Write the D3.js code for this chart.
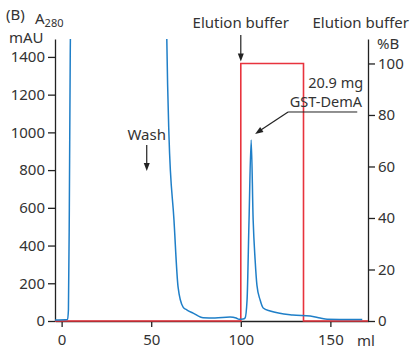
<!DOCTYPE html>
<html>
<head>
<meta charset="utf-8">
<script src="https://cdn.jsdelivr.net/npm/d3@7"></script>
<style>
  body { margin: 0; background: #fff; }
  text { font-family: "Noto Sans", sans-serif; fill: #333; }
</style>
</head>
<body>
<div id="chart"></div>
<script>
/* Daten: Chromatogramm (A280 in mAU gegen Volumen in ml) */
var volume = [-3.7, 3.3, 3.8, 4.3, 4.8, 5.3, 58.3, 58.7, 59.9, 62.7, 65, 67.8, 70, 73.4, 79, 85.6, 94, 97.4, 99, 101.3, 102.4, 103.5, 104.6, 105.8, 106.9, 108, 109, 110.8, 112.5, 116.4, 129, 138.7, 144.3, 148.2, 167.8];
var absorbance = [5, 8, 60, 600, 1400, 1800, 1800, 1495, 986, 536, 180, 74, 58, 42, 17, 16, 21, 16, 9, 10, 16, 111, 535, 960, 535, 323, 190, 111, 69, 53, 32, 27, 16, 9, 8];

/* Gradient %B */
var gradVolume = [-3.7, 100, 100, 135, 135, 171];
var gradB = [0, 0, 100, 100, 0, 0];

/* Achsen */
var xTicks = [0, 50, 100, 150];
var yTicks = [0, 200, 400, 600, 800, 1000, 1200, 1400];
var bTicks = [0, 20, 40, 60, 80, 100];

var W = 411, H = 349;
var margin = {top: 39, right: 43, bottom: 28, left: 55};

var svg = d3.select("#chart").append("svg").attr("width", W).attr("height", H);

var x = d3.scaleLinear().domain([-3.7, 171]).range([margin.left, W - margin.right]);
var y = d3.scaleLinear().domain([0, 1495]).range([H - margin.bottom, margin.top]);
var yB = d3.scaleLinear().domain([0, 109.5]).range([H - margin.bottom, margin.top]);

svg.append("clipPath").attr("id", "plot").append("rect")
  .attr("x", margin.left).attr("y", margin.top)
  .attr("width", W - margin.left - margin.right).attr("height", H - margin.top - margin.bottom);

/* Achsen zeichnen */
function styleAxis(g) {
  g.select(".domain").attr("stroke", "#222").attr("stroke-width", 1.3);
  g.selectAll(".tick line").attr("stroke", "#222").attr("stroke-width", 1.3);
  g.selectAll(".tick text").style("font-size", "15px").attr("fill", "#333");
}

svg.append("g").attr("transform", "translate(0," + (H - margin.bottom) + ")")
  .call(d3.axisBottom(x).tickValues(xTicks).tickFormat(d3.format("d")).tickSize(6).tickPadding(7).tickSizeOuter(0))
  .call(styleAxis);

svg.append("g").attr("transform", "translate(" + margin.left + ",0)")
  .call(d3.axisLeft(y).tickValues(yTicks).tickFormat(d3.format("d")).tickSize(7).tickPadding(3).tickSizeOuter(0))
  .call(styleAxis);

svg.append("g").attr("transform", "translate(" + (W - margin.right) + ",0)")
  .call(d3.axisRight(yB).tickValues(bTicks).tickFormat(d3.format("d")).tickSize(7).tickPadding(3).tickSizeOuter(0))
  .call(styleAxis);

/* Kurven */
var gradLine = d3.line().x(function(d, i) { return x(gradVolume[i]); }).y(function(d, i) { return yB(gradB[i]); });
svg.append("path").datum(gradB).attr("d", gradLine)
  .attr("fill", "none").attr("stroke", "#e8333d").attr("stroke-width", 1.6);

var absLine = d3.line().curve(d3.curveMonotoneX)
  .x(function(d, i) { return x(volume[i]); }).y(function(d, i) { return y(absorbance[i]); });
svg.append("path").datum(absorbance).attr("d", absLine).attr("clip-path", "url(#plot)")
  .attr("fill", "none").attr("stroke", "#1f7fc8").attr("stroke-width", 1.5);

/* Beschriftung */
function arrow(x1, y1, x2, y2) {
  var a = Math.atan2(y2 - y1, x2 - x1), L = 8, w = 3;
  svg.append("line").attr("x1", x1).attr("y1", y1)
    .attr("x2", x2 - Math.cos(a) * L * 0.8).attr("y2", y2 - Math.sin(a) * L * 0.8)
    .attr("stroke", "#222").attr("stroke-width", 1.2);
  var bx = x2 - Math.cos(a) * L, by = y2 - Math.sin(a) * L;
  svg.append("path").attr("fill", "#222").attr("d",
    "M" + x2 + "," + y2 +
    "L" + (bx - Math.sin(a) * w) + "," + (by + Math.cos(a) * w) +
    "L" + (bx + Math.sin(a) * w) + "," + (by - Math.cos(a) * w) + "Z");
}

function label(t, px, py, anchor, size) {
  return svg.append("text").attr("x", px).attr("y", py).attr("text-anchor", anchor || "start")
    .style("font-size", (size || 15) + "px").text(t);
}

label("(B)", 6, 20);
var a280 = svg.append("text").attr("x", 35).attr("y", 24).style("font-size", "15px");
a280.append("tspan").text("A");
a280.append("tspan").attr("dy", 3).style("font-size", "11px").text("280");
label("mAU", 9, 43);
label("%B", 377, 49);
label("ml", 357, 346);

label("Wash", x(47.5), y(960), "middle");
arrow(x(47.5), y(933), x(47.5), y(795));

label("Elution buffer", x(100), 28, "middle");
arrow(x(100), 35, x(100), yB(100) - 2);
label("Elution buffer", 409, 28, "end");

label("20.9 mg", x(168.3), y(1236), "end", 14.5);
label("GST-DemA", x(167.7), y(1135), "end", 14.5);
svg.append("line").attr("x1", x(126.4)).attr("x2", x(165)).attr("y1", y(1108)).attr("y2", y(1108))
  .attr("stroke", "#222").attr("stroke-width", 1);
arrow(x(126.4), y(1108), x(108), y(992));
</script>
</body>
</html>
